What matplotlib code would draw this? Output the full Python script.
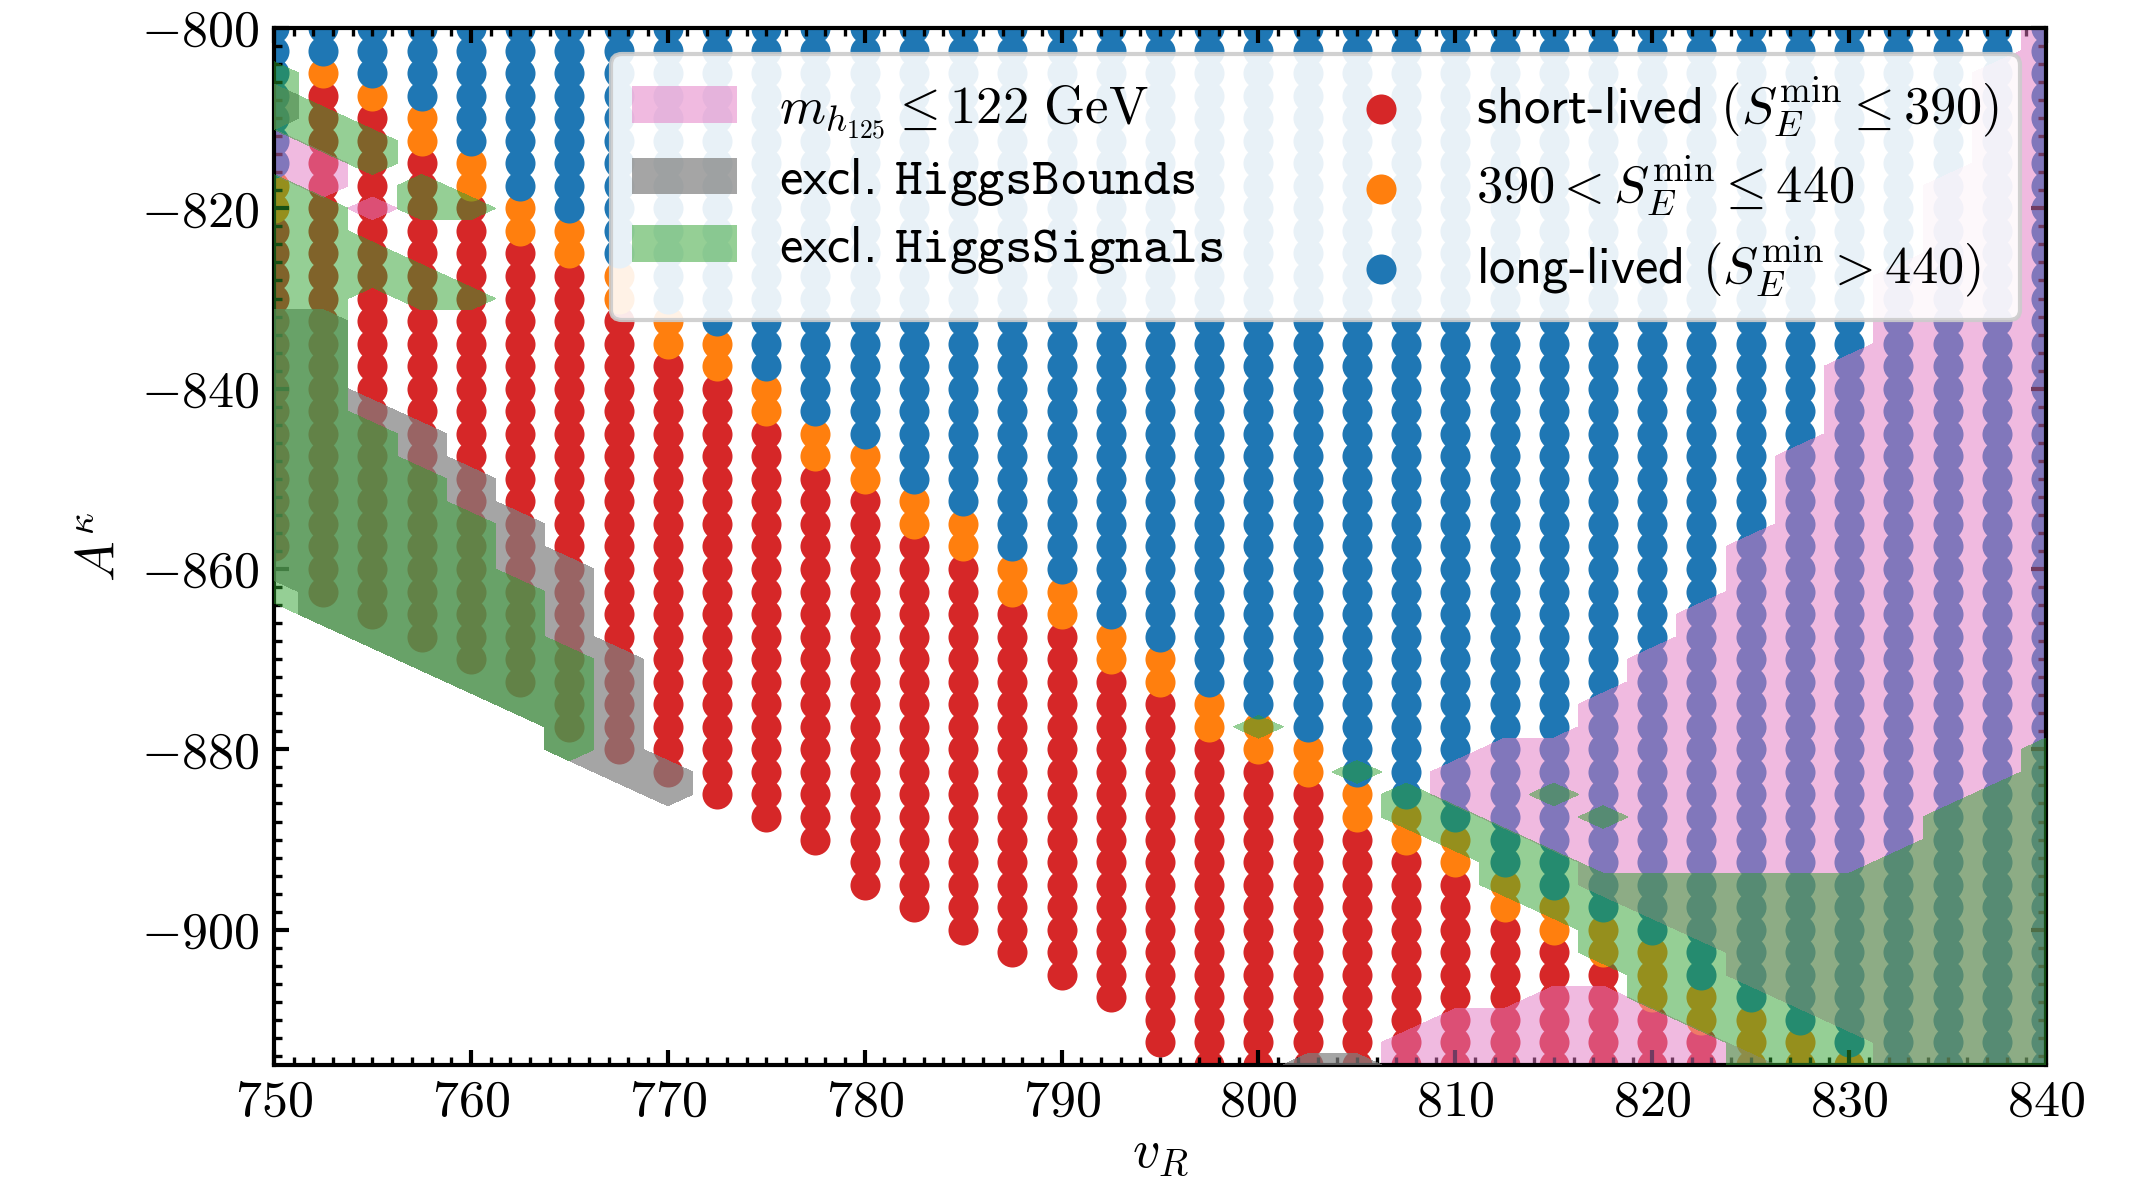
import numpy as np
import matplotlib.pyplot as plt
import matplotlib.patches as mpatches
from matplotlib.ticker import MultipleLocator

plt.rcParams['font.family'] = 'serif'
plt.rcParams['font.serif'] = ['cmr10']
plt.rcParams['mathtext.fontset'] = 'cm'
plt.rcParams['axes.formatter.use_mathtext'] = True
plt.rcParams['axes.linewidth'] = 1.0

# === SCAN GRID (columns in v_R, rows in A^kappa) ===
v_R = [750, 752.5, 755, 757.5, 760, 762.5, 765, 767.5, 770, 772.5, 775, 777.5,
       780, 782.5, 785, 787.5, 790, 792.5, 795, 797.5, 800, 802.5, 805, 807.5,
       810, 812.5, 815, 817.5, 820, 822.5, 825, 827.5, 830, 832.5, 835, 837.5, 840]
step = 2.5
A_rows = np.arange(-800, -915 - step / 2, -step)

# lowest valid point in each column
lowest = [-857.5, -862.5, -865, -867.5, -870, -872.5, -877.5, -880, -882.5, -885,
          -887.5, -890, -895, -897.5, -900, -902.5, -905, -907.5, -912.5,
          -915, -915, -915, -915, -915, -915, -915, -915, -915, -915, -915,
          -915, -915, -915, -915, -915, -915, -915]
# lowest long-lived point (blue) and highest short-lived point (red) per column
blue_bottom = [-815, -802.5, -805, -807.5, -812.5, -817.5, -820, -825, -830, -832.5,
               -837.5, -842.5, -845, -850, -852.5, -857.5, -860, -865, -867.5,
               -872.5, -875, -877.5, -882.5, -885, -887.5, -892.5, -895, -897.5,
               -900, -905, -907.5, -910, -912.5, -915, -915, -915, -915]
red_top = [-822.5, -807.5, -810, -815, -820, -825, -827.5, -832.5, -837.5, -840,
           -845, -850, -852.5, -857.5, -860, -865, -867.5, -872.5, -875, -880,
           -882.5, -885, -890, -892.5, -895, -900, -902.5, -905, -910, -912.5,
           -920, -920, -920, -920, -920, -920, -920]

# === EXCLUDED REGIONS: intervals (column, A_top, A_bottom) ===
pink_v = [750, 752.5, 755,
          810, 812.5, 815, 817.5, 820, 822.5, 825, 827.5, 830, 832.5, 835, 837.5, 840,
          807.5, 810, 812.5, 815, 817.5, 820, 822.5, 825]
pink_top = [-812.5, -815, -820,
            -882.5, -880, -880, -875, -870, -865, -857.5, -847.5, -837.5, -827.5, -817.5, -805, -800,
            -912.5, -910, -910, -907.5, -907.5, -910, -912.5, -915]
pink_bot = [-815, -817.5, -820,
            -885, -887.5, -890, -895, -897.5, -900, -905, -907.5, -910, -915, -915, -915, -915,
            -915, -915, -915, -915, -915, -915, -915, -915]

grey_v = [750, 750, 752.5, 755, 757.5, 760, 762.5, 765, 767.5, 770, 802.5, 805]
grey_top = [-807.5, -832.5, -832.5, -842.5, -845, -850, -855, -860, -870, -882.5, -915, -915]
grey_bot = [-810, -860, -865, -867.5, -870, -872.5, -875, -880, -882.5, -885, -915, -915]

green_v = [750, 750, 752.5, 752.5, 755, 755, 755, 757.5, 757.5, 757.5, 760, 760, 760,
           762.5, 765, 800, 805, 807.5, 810, 812.5, 815, 815, 817.5, 817.5, 820,
           822.5, 825, 827.5, 830, 832.5, 835, 837.5, 840]
green_top = [-805, -817.5, -810, -820, -812.5, -825, -845, -817.5, -827.5, -850, -820, -830, -855,
             -862.5, -870, -877.5, -882.5, -885, -887.5, -890, -885, -892.5, -887.5, -895, -895,
             -895, -895, -895, -895, -892.5, -887.5, -885, -880]
green_bot = [-810, -862.5, -812.5, -865, -815, -827.5, -867.5, -820, -830, -870, -820, -830, -872.5,
             -875, -880, -877.5, -882.5, -887.5, -890, -895, -885, -897.5, -887.5, -902.5, -907.5,
             -910, -915, -915, -915, -915, -915, -915, -915]

# === SORT SCAN POINTS BY LIFETIME CLASS ===
pts = {'red': [], 'orange': [], 'blue': []}
for x, lo, bb, rt in zip(v_R, lowest, blue_bottom, red_top):
    for y in A_rows:
        if y < lo - 1e-6:
            continue
        if y >= bb - 1e-6:
            pts['blue'].append((x, y))
        elif y <= rt + 1e-6:
            pts['red'].append((x, y))
        else:
            pts['orange'].append((x, y))

# grid for the region masks, padded by one step on every side
gx = np.concatenate([[v_R[0] - step], v_R, [v_R[-1] + step]])
gy = np.concatenate([[A_rows[0] + step], A_rows, [A_rows[-1] - step]])


def region_mask(xs, tops, bots):
    m = np.zeros((len(gy), len(gx)))
    for x, t, b in zip(xs, tops, bots):
        i = np.argmin(np.abs(gx - x))
        m[(gy <= t + 1e-6) & (gy >= b - 1e-6), i] = 1
    # let regions run flush to the frame
    m[0], m[-1] = m[1], m[-2]
    m[:, 0], m[:, -1] = m[:, 1], m[:, -2]
    return m


# === PLOT ===
fig = plt.figure(figsize=(2149 / 300, 1182 / 300))
ax = fig.add_axes([0.1275, 0.099, 0.8246, 0.8773])

labels = {'red': r'short-lived $(S_E^{\mathrm{min}} \leq 390)$',
          'orange': r'$390 < S_E^{\mathrm{min}} \leq 440$',
          'blue': r'long-lived $(S_E^{\mathrm{min}} > 440)$'}
sc = {}
for key, col in [('red', 'tab:red'), ('orange', 'tab:orange'), ('blue', 'tab:blue')]:
    arr = np.array(pts[key])
    sc[key] = ax.scatter(arr[:, 0], arr[:, 1], s=52, c=col, linewidths=0,
                         label=labels[key], zorder=1)

ax.contourf(gx, gy, region_mask(pink_v, pink_top, pink_bot), levels=[0.5, 1.5],
            colors=['tab:pink'], alpha=0.5, zorder=2)
ax.contourf(gx, gy, region_mask(grey_v, grey_top, grey_bot), levels=[0.5, 1.5],
            colors=['tab:gray'], alpha=0.7, zorder=3)
ax.contourf(gx, gy, region_mask(green_v, green_top, green_bot), levels=[0.5, 1.5],
            colors=['tab:green'], alpha=0.5, zorder=4)

ax.set_xlim(750, 840)
ax.set_ylim(-915, -800)
ax.xaxis.set_major_locator(MultipleLocator(10))
ax.xaxis.set_minor_locator(MultipleLocator(1))
ax.yaxis.set_major_locator(MultipleLocator(20))
ax.yaxis.set_minor_locator(MultipleLocator(2))
ax.tick_params(which='both', direction='in', top=True, right=True, labelsize=12.5)
ax.tick_params(which='major', length=3.5, width=1.0)
ax.tick_params(which='minor', length=2.0, width=0.8)
ax.set_xlabel(r'$v_R$', fontsize=13, labelpad=1)
ax.set_ylabel(r'$A^\kappa$', fontsize=13)

handles = [mpatches.Patch(facecolor='tab:pink', alpha=0.5, linewidth=0),
           mpatches.Patch(facecolor='tab:gray', alpha=0.7, linewidth=0),
           mpatches.Patch(facecolor='tab:green', alpha=0.5, linewidth=0),
           sc['red'], sc['orange'], sc['blue']]
names = [r'$m_{h_{125}} \leq 122\ \mathrm{GeV}$',
         r'excl. $\mathtt{HiggsBounds}$',
         r'excl. $\mathtt{HiggsSignals}$',
         labels['red'], labels['orange'], labels['blue']]
leg = ax.legend(handles, names, ncol=2, loc='upper right', framealpha=0.9,
                labelspacing=0.3, prop={'family': 'cmss10', 'size': 12.6})
leg.set_zorder(10)

fig.savefig('out.png', dpi=300)
